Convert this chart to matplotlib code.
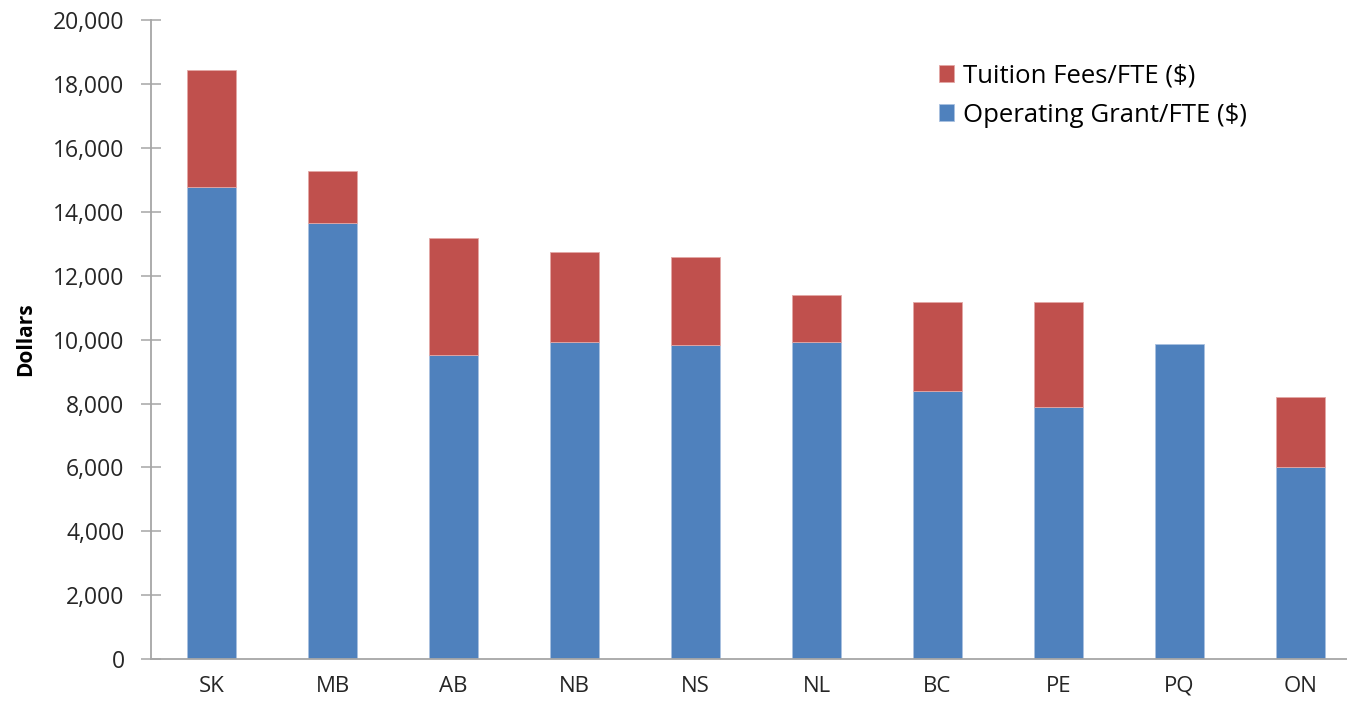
import matplotlib.pyplot as plt
from matplotlib.ticker import FuncFormatter

provinces = ["SK", "MB", "AB", "NB", "NS", "NL", "BC", "PE", "PQ", "ON"]
grant_total = [14760, 13640, 9510, 9940, 9830, 9940, 8390, 7890, 9870, 6010]
fees_top = [18420, 15260, 13170, 12740, 12580, 11390, 11170, 11170, 9870, 8210]
tuition = [t - g for t, g in zip(fees_top, grant_total)]

blue = "#4F81BD"
red = "#C0504D"
axis_grey = "#a6a6a6"
text_col = "#262626"

plt.rcParams["font.family"] = ["Open Sans", "DejaVu Sans"]

fig = plt.figure(figsize=(13.47, 7.03), dpi=100)
ax = fig.add_axes([151 / 1347, 43.8 / 703, 1210 / 1347, 639.2 / 703])

x = range(len(provinces))
ax.bar(x, grant_total, width=0.4, color=blue, edgecolor="#a9c1e0", linewidth=0.6,
       label="Operating Grant/FTE ($)")
# no outline where there is no tuition segment (PQ)
ax.bar(x, tuition, width=0.4, bottom=grant_total, color=red, edgecolor="#e3a8a6",
       linewidth=[0.6 if t > 0 else 0 for t in tuition], label="Tuition Fees/FTE ($)")

ax.set_xlim(-0.5, 9.5)
ax.set_ylim(0, 20000)
ax.set_yticks(range(0, 20001, 2000))
ax.yaxis.set_major_formatter(FuncFormatter(lambda v, p: f"{int(v):,}"))
ax.set_xticks(list(x))
ax.set_xticklabels(provinces)

for side in ["top", "right"]:
    ax.spines[side].set_visible(False)
for side in ["left", "bottom"]:
    ax.spines[side].set_color(axis_grey)
    ax.spines[side].set_linewidth(1.3)

ax.tick_params(axis="y", direction="inout", length=14, width=1.1, color=axis_grey,
               labelsize=16.5, labelcolor=text_col, pad=12)
ax.tick_params(axis="x", length=0, labelsize=16, labelcolor=text_col, pad=12)

ax.set_ylabel("Dollars", fontsize=15, fontweight="bold", labelpad=12, color="black")

handles, labels = ax.get_legend_handles_labels()
ax.legend(handles[::-1], labels[::-1], loc="upper left", bbox_to_anchor=(0.636, 0.96),
          frameon=False, fontsize=18.5, handlelength=0.6, handleheight=0.6,
          handletextpad=0.35, labelspacing=0.55, borderaxespad=0.3)

fig.savefig("out.png", dpi=100)
